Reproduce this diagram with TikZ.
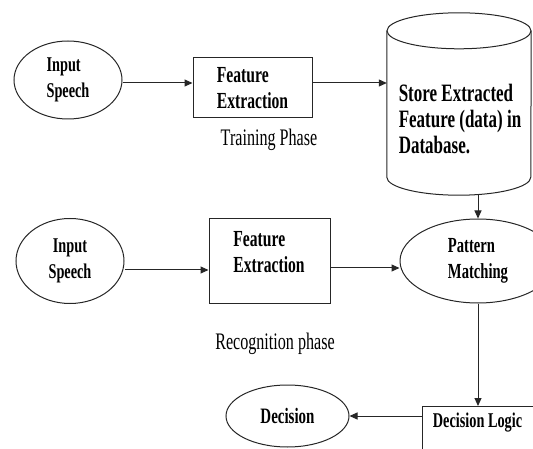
\documentclass[tikz,border=0pt]{standalone}
\usepackage{fontspec}
\setmainfont{Liberation Serif}
\newfontfamily\narrowfont[FakeStretch=0.68]{Liberation Serif}
\usetikzlibrary{shapes.geometric,arrows.meta}
\tikzset{
  flow/.style={draw=black!85, line width=1pt},
  arr/.style={flow, -{Triangle[length=8pt,width=7pt]}},
  boldtext/.style={font=\narrowfont\bfseries\fontsize{#1}{26}\selectfont, inner sep=0pt},
  boldtext/.default=23,
  oval/.style={ellipse, flow, inner sep=0pt, align=left, boldtext=21},
  procbox/.style={rectangle, flow, inner sep=0pt},
  phase/.style={font=\narrowfont\fontsize{23.7}{26}\selectfont, inner sep=0pt}
}
\begin{document}
\begin{tikzpicture}[x=1pt,y=1pt]
    \useasboundingbox (0,0) rectangle (533,-449);
    % training
    \node[oval, minimum width=108pt, minimum height=78pt] (in1) at (68,-80) {Input\\Speech};
    \node[procbox, minimum width=119pt, minimum height=60pt, boldtext, align=left] (fe1) at (252.5,-88) {Feature\\Extraction};
    \node[phase] (train) at (269,-140) {Training Phase};
    \node[minimum width=144pt, minimum height=182pt, inner sep=0pt] (db) at (459,-104) {};
    \draw[flow] ([yshift=-18pt]db.north) ellipse [x radius=72, y radius=18];
    \draw[flow] ([yshift=-18pt]db.north west) -- ([yshift=18pt]db.south west)
        arc [start angle=180, end angle=360, x radius=72, y radius=18] -- ([yshift=-18pt]db.north east);
    \node[boldtext=25, align=left] (dbtext) at (460,-119) {Store Extracted\\Feature (data) in\\Database.};
    \draw[arr] ([yshift=-3pt]in1.east) -- ([yshift=-3pt]in1.east -| fe1.west);
    \draw[arr] ([yshift=-3pt]in1.east -| fe1.east) -- ([yshift=-3pt]in1.east -| db.west);
    % recognition
    \node[oval, align=center, minimum width=108pt, minimum height=85pt] (in2) at (70,-261) {Input\\Speech};
    \node[procbox, minimum width=121pt, minimum height=84pt] (fe2) at (269.5,-261) {};
    \node[boldtext, align=left] (fe2text) at (269,-252) {Feature\\Extraction};
    \node[oval, minimum width=156pt, minimum height=84pt, boldtext=21.5] (pm) at (478,-261) {Pattern\\Matching};
    \node[phase] (recog) at (275,-343.5) {Recognition phase};
    \node[procbox, minimum width=120pt, minimum height=70pt, anchor=north west] (dl) at (422,-406) {};
    \node[boldtext=21] (dltext) at (477.5,-423) {Decision Logic};
    \node[oval, minimum width=123pt, minimum height=62pt, boldtext=22] (dec) at (287.5,-416) {Decision};
    \draw[arr] (pm.north |- db.south) -- (pm.north);
    \draw[arr] ([yshift=-9pt]in2.east) -- ([yshift=-9pt]in2.east -| fe2.west);
    \draw[arr] ([yshift=-7pt]fe2.east) -- ([yshift=-7pt]fe2.east -| pm.west);
    \draw[arr] (pm.south) -- (pm.south |- dl.north);
    \draw[arr] (dl.west |- dec.east) -- (dec.east);
\end{tikzpicture}
\end{document}
